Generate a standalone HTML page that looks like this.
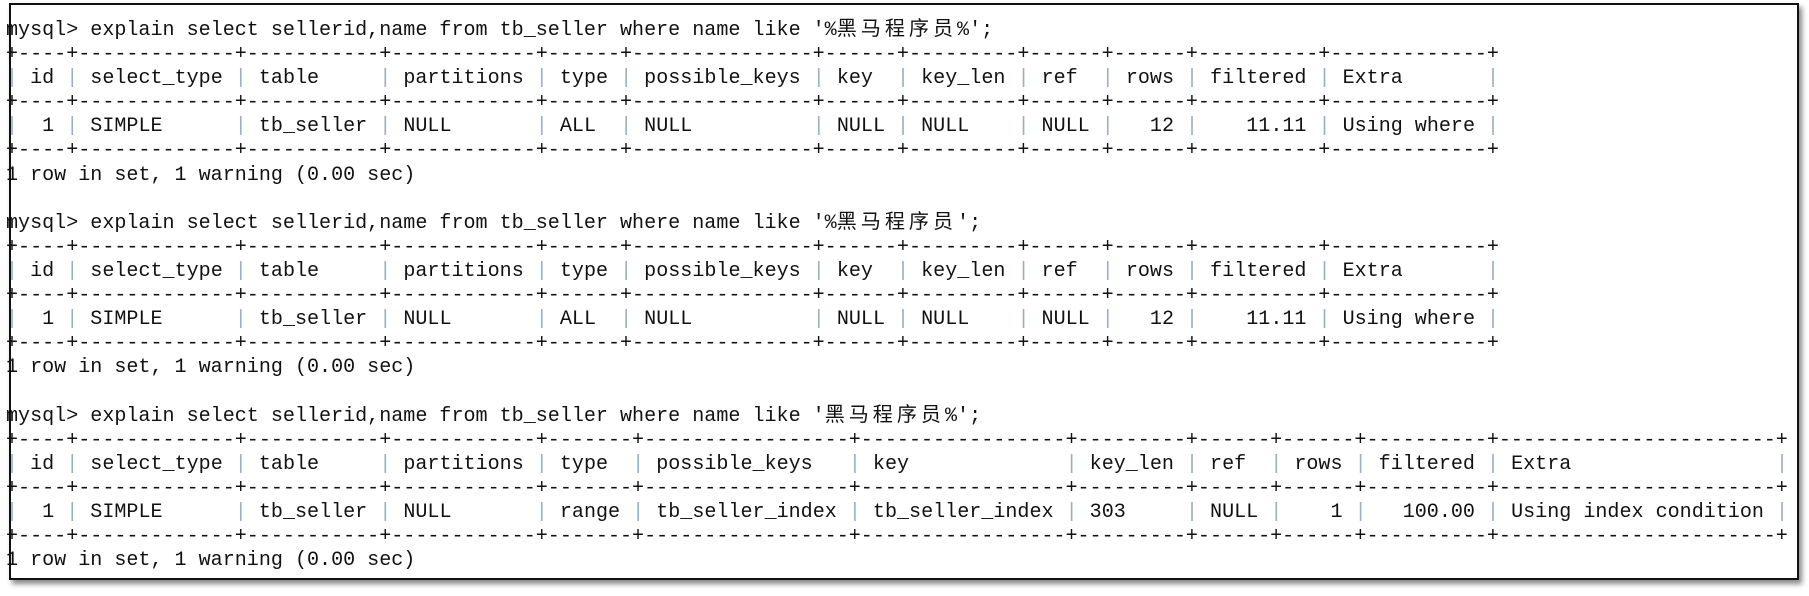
<!DOCTYPE html>
<html><head><meta charset="utf-8"><style>
html,body{margin:0;padding:0;background:#fff;width:1809px;height:596px;overflow:hidden;position:relative}
.frame{position:absolute;left:9px;top:3px;width:1786px;height:573px;border:2px solid #111;box-shadow:3px 4px 5px #888;background:#fff}
pre{position:absolute;left:6px;top:19px;margin:0;font-family:"Liberation Mono","Noto Sans CJK SC",monospace;font-size:20.07px;line-height:24.1px;color:#111}
.p{color:#9ab0c4}
.c{letter-spacing:4px}
</style></head><body>
<div class="frame"></div>
<pre>mysql&gt; explain select sellerid,name from tb_seller where name like '%<span class="c">黑马程序员</span>%';
+----+-------------+-----------+------------+------+---------------+------+---------+------+------+----------+-------------+
<span class="p">|</span> id <span class="p">|</span> select_type <span class="p">|</span> table     <span class="p">|</span> partitions <span class="p">|</span> type <span class="p">|</span> possible_keys <span class="p">|</span> key  <span class="p">|</span> key_len <span class="p">|</span> ref  <span class="p">|</span> rows <span class="p">|</span> filtered <span class="p">|</span> Extra       <span class="p">|</span>
+----+-------------+-----------+------------+------+---------------+------+---------+------+------+----------+-------------+
<span class="p">|</span>  1 <span class="p">|</span> SIMPLE      <span class="p">|</span> tb_seller <span class="p">|</span> NULL       <span class="p">|</span> ALL  <span class="p">|</span> NULL          <span class="p">|</span> NULL <span class="p">|</span> NULL    <span class="p">|</span> NULL <span class="p">|</span>   12 <span class="p">|</span>    11.11 <span class="p">|</span> Using where <span class="p">|</span>
+----+-------------+-----------+------------+------+---------------+------+---------+------+------+----------+-------------+
1 row in set, 1 warning (0.00 sec)

mysql&gt; explain select sellerid,name from tb_seller where name like '%<span class="c">黑马程序员</span>';
+----+-------------+-----------+------------+------+---------------+------+---------+------+------+----------+-------------+
<span class="p">|</span> id <span class="p">|</span> select_type <span class="p">|</span> table     <span class="p">|</span> partitions <span class="p">|</span> type <span class="p">|</span> possible_keys <span class="p">|</span> key  <span class="p">|</span> key_len <span class="p">|</span> ref  <span class="p">|</span> rows <span class="p">|</span> filtered <span class="p">|</span> Extra       <span class="p">|</span>
+----+-------------+-----------+------------+------+---------------+------+---------+------+------+----------+-------------+
<span class="p">|</span>  1 <span class="p">|</span> SIMPLE      <span class="p">|</span> tb_seller <span class="p">|</span> NULL       <span class="p">|</span> ALL  <span class="p">|</span> NULL          <span class="p">|</span> NULL <span class="p">|</span> NULL    <span class="p">|</span> NULL <span class="p">|</span>   12 <span class="p">|</span>    11.11 <span class="p">|</span> Using where <span class="p">|</span>
+----+-------------+-----------+------------+------+---------------+------+---------+------+------+----------+-------------+
1 row in set, 1 warning (0.00 sec)

mysql&gt; explain select sellerid,name from tb_seller where name like '<span class="c">黑马程序员</span>%';
+----+-------------+-----------+------------+-------+-----------------+-----------------+---------+------+------+----------+-----------------------+
<span class="p">|</span> id <span class="p">|</span> select_type <span class="p">|</span> table     <span class="p">|</span> partitions <span class="p">|</span> type  <span class="p">|</span> possible_keys   <span class="p">|</span> key             <span class="p">|</span> key_len <span class="p">|</span> ref  <span class="p">|</span> rows <span class="p">|</span> filtered <span class="p">|</span> Extra                 <span class="p">|</span>
+----+-------------+-----------+------------+-------+-----------------+-----------------+---------+------+------+----------+-----------------------+
<span class="p">|</span>  1 <span class="p">|</span> SIMPLE      <span class="p">|</span> tb_seller <span class="p">|</span> NULL       <span class="p">|</span> range <span class="p">|</span> tb_seller_index <span class="p">|</span> tb_seller_index <span class="p">|</span> 303     <span class="p">|</span> NULL <span class="p">|</span>    1 <span class="p">|</span>   100.00 <span class="p">|</span> Using index condition <span class="p">|</span>
+----+-------------+-----------+------------+-------+-----------------+-----------------+---------+------+------+----------+-----------------------+
1 row in set, 1 warning (0.00 sec)</pre>
</body></html>
